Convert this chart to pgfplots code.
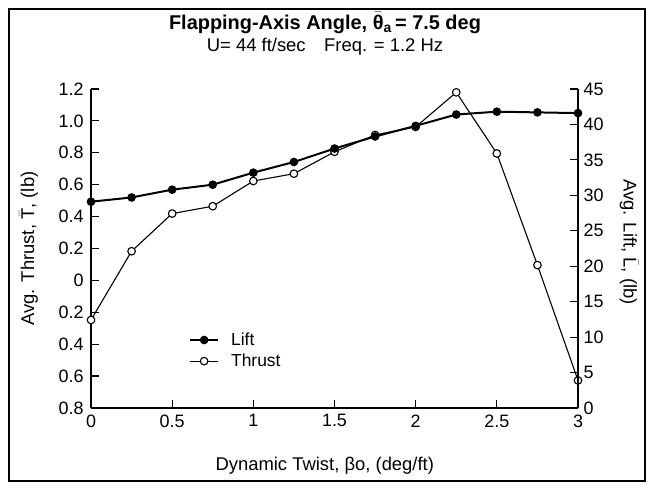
\documentclass[border=0pt]{standalone}
\usepackage{amsmath}
\usepackage{pgfplots}
\pgfplotsset{compat=1.18}
\usepackage{fontspec}
\setmainfont{Liberation Sans}

\pgfplotstableread{
x T
0    -0.248
0.25  0.183
0.5   0.419
0.75  0.465
1.0   0.623
1.25  0.669
1.5   0.806
1.75  0.912
2.0   0.962
2.25  1.179
2.5   0.796
2.75  0.096
3.0  -0.627
}\thrust

\pgfplotstableread{
x L
0    29.1
0.25 29.7
0.5  30.8
0.75 31.5
1.0  33.2
1.25 34.7
1.5  36.6
1.75 38.3
2.0  39.8
2.25 41.4
2.5  41.8
2.75 41.7
3.0  41.6
}\lift

\begin{document}
\begin{tikzpicture}[x=1bp,y=1bp]
\path (-91,-77) rectangle (557,408);
\draw[line width=1.3bp] (-82,-73) rectangle (554,399);

\pgfplotsset{
  common/.style={
    at={(0,0)}, anchor=south west,
    scale only axis, width=487bp, height=319bp,
    xmin=0, xmax=3, clip=false,
    axis line style={line width=1.5bp, black},
    tick align=inside, major tick length=8bp,
    every tick/.style={black, line width=1.2bp},
    ticklabel style={font=\fontsize{18}{21}\selectfont},
    label style={font=\fontsize{18.5}{22}\selectfont},
    /pgf/number format/assume math mode=true,
  }
}

\begin{axis}[common,
  ymin=-0.8, ymax=1.2,
  axis x line*=bottom, axis y line*=left,
  xtick={0,0.5,1,1.5,2,2.5,3}, xticklabels={0,0.5,1,1.5,2,2.5,3},
  ytick={-0.8,-0.6,-0.4,-0.2,0,0.2,0.4,0.6,0.8,1.0,1.2},
  yticklabels={0.8,0.6,0.4,0.2,0,0.2,0.4,0.6,0.8,1.0,1.2},
  yticklabel style={xshift=-4bp},
  xticklabel style={yshift=-3bp},
  xlabel={Dynamic Twist, βo, (deg/ft)},
  ylabel={Avg. Thrust, $\bar{\text{T}}$, (lb)},
  xlabel style={at={(axis description cs:0.48,-0.18)}, anchor=center},
  ylabel style={at={(axis description cs:-0.128,0.5)}, anchor=center},
]
\addplot[black, line width=1.1bp, mark=*, mark size=3.8bp,
  mark options={fill=white, line width=1.1bp}] table[x=x,y=T]{\thrust};
\end{axis}

\begin{axis}[common,
  ymin=0, ymax=45,
  axis x line=none, axis y line*=right,
  ytick={0,5,10,15,20,25,30,35,40,45},
  yticklabel style={xshift=2bp},
  ylabel={Avg. Lift, $\bar{\text{L}}$, (lb)},
  ylabel style={at={(axis description cs:1.105,0.52)}, anchor=center, rotate=180},
  legend style={draw=none, fill=none, at={(0.195,0.18)}, anchor=west,
    font=\fontsize{17.5}{21}\selectfont, row sep=3bp,
    /tikz/every odd column/.append style={column sep=10bp}},
  legend cell align=left,
  legend image code/.code={\draw[mark repeat=2,mark phase=2,#1] plot coordinates {(0bp,0bp) (14bp,0bp) (28bp,0bp)};},
]
\addplot[black, line width=2bp, mark=*, mark size=3.8bp,
  mark options={fill=black, line width=1bp}] table[x=x,y=L]{\lift};
\addlegendentry{Lift}
\addlegendimage{black, line width=1.1bp, mark=*, mark size=3.8bp, mark options={fill=white, line width=1.1bp}}
\addlegendentry{Thrust}
\end{axis}

\node[font=\bfseries\fontsize{20}{24}\selectfont] at (234,385) {Flapping-Axis Angle, $\bar{\text{θ}}_{\text{a}}$\,= 7.5 deg};
\node[font=\fontsize{18.5}{22}\selectfont] at (234,361) {U= 44 ft/sec\quad Freq. = 1.2 Hz};
\end{tikzpicture}
\end{document}
